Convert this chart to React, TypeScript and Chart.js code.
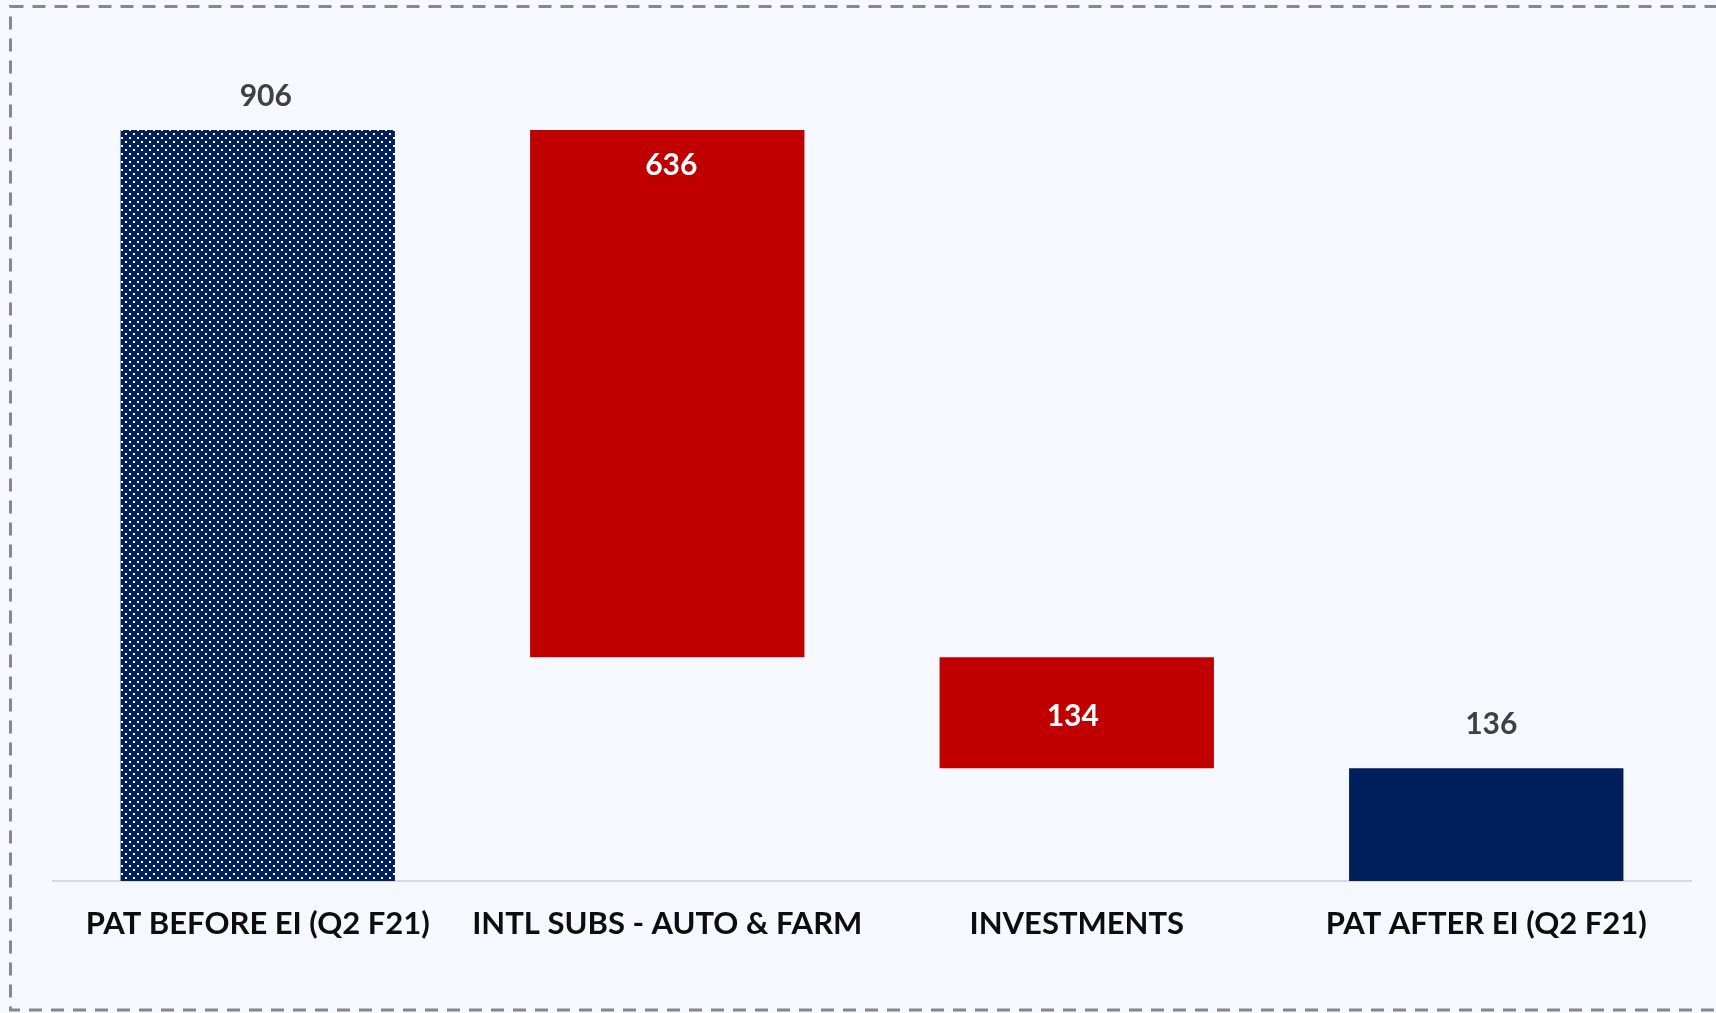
import React, { useEffect, useRef } from 'react';
import { Chart, registerables } from 'chart.js';

Chart.register(...registerables);

const categories = ['PAT BEFORE EI (Q2 F21)', 'INTL SUBS - AUTO & FARM', 'INVESTMENTS', 'PAT AFTER EI (Q2 F21)'];
const values = [906, -636, -134, 136];
const kinds = ['total', 'delta', 'delta', 'total'];
const valueLabels = ['906', '636', '134', '136'];
const yMin = 0;
const yMax = 1000;

const NAVY = '#001F5B';
const RED = '#C00000';
const BG = '#F5F8FE';
const FONT = 'Lato, "DejaVu Sans", sans-serif';

const W = 1716;
const H = 1013;

function buildRanges(): [number, number][] {
  let running = 0;
  return values.map((v, i) => {
    if (kinds[i] === 'total') {
      running = v;
      return [0, v] as [number, number];
    }
    const r: [number, number] = [running, running + v];
    running += v;
    return r;
  });
}

const labelPlacement = [
  { mode: 'above', offset: 34, dx: 8 },
  { mode: 'insideTop', offset: 35, dx: 4 },
  { mode: 'center', offset: 4, dx: -4 },
  { mode: 'above', offset: 44, dx: 5 },
];

const App = () => {
  const ref = useRef<HTMLCanvasElement | null>(null);

  useEffect(() => {
    document.body.style.margin = '0';
    document.body.style.overflow = 'hidden';
    document.body.style.background = BG;
    const canvas = ref.current;
    if (!canvas) return;
    const ctx = canvas.getContext('2d');
    if (!ctx) return;

    const tile = document.createElement('canvas');
    tile.width = 8;
    tile.height = 8;
    const g = tile.getContext('2d')!;
    g.fillStyle = NAVY;
    g.fillRect(0, 0, 8, 8);
    g.fillStyle = '#FFFFFF';
    g.fillRect(1, 1, 2, 2);
    g.fillRect(5, 5, 2, 2);
    const pattern = ctx.createPattern(tile, 'repeat');

    const colors = kinds.map((k, i) => (k === 'total' ? (i === 0 ? pattern : NAVY) : RED));

    const bgPlugin = {
      id: 'bgBorder',
      beforeDraw(chart: any) {
        const c = chart.ctx;
        c.save();
        c.fillStyle = BG;
        c.fillRect(0, 0, chart.width, chart.height);
        c.strokeStyle = '#888888';
        c.lineWidth = 3;
        c.setLineDash([13, 9]);
        c.strokeRect(10.5, 6.5, chart.width + 20, 1003.5);
        c.restore();
      },
    };

    const labelPlugin = {
      id: 'valueLabels',
      afterDatasetsDraw(chart: any) {
        const c = chart.ctx;
        const meta = chart.getDatasetMeta(0);
        c.save();
        c.font = `bold 30px ${FONT}`;
        c.textAlign = 'center';
        c.textBaseline = 'middle';
        meta.data.forEach((el: any, i: number) => {
          const top = Math.min(el.y, el.base);
          const bottom = Math.max(el.y, el.base);
          const p = labelPlacement[i];
          let y = top;
          if (p.mode === 'above') y = top - p.offset;
          else if (p.mode === 'insideTop') y = top + p.offset;
          else y = (top + bottom) / 2 + p.offset;
          c.fillStyle = kinds[i] === 'total' ? '#404040' : '#FFFFFF';
          c.fillText(valueLabels[i], el.x + p.dx, y);
        });
        c.restore();
      },
    };

    const chart = new Chart(ctx, {
      type: 'bar',
      data: {
        labels: categories,
        datasets: [
          {
            data: buildRanges() as any,
            backgroundColor: colors as any,
            borderWidth: 0,
            categoryPercentage: 1,
            barPercentage: 0.67,
          },
        ],
      },
      options: {
        responsive: false,
        animation: false,
        devicePixelRatio: 1,
        layout: { padding: { left: 53, right: 25, top: 52, bottom: 0 } },
        plugins: { legend: { display: false }, tooltip: { enabled: false } },
        scales: {
          x: {
            grid: { display: false },
            border: { display: true, color: '#D9D9D9', width: 2 },
            ticks: {
              color: '#0D0D0D',
              font: { family: FONT, size: 31, weight: 'bold' },
              padding: 16,
              maxRotation: 0,
              autoSkip: false,
            },
            afterFit(scale: any) {
              scale.height = H - 881;
            },
          },
          y: { display: false, min: yMin, max: yMax },
        },
      },
      plugins: [bgPlugin, labelPlugin],
    });

    return () => chart.destroy();
  }, []);

  return <canvas ref={ref} width={W} height={H} style={{ display: 'block', width: W, height: H }} />;
};

export default App;
